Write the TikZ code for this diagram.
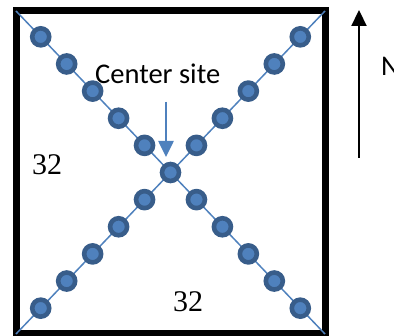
\documentclass[tikz,border=0pt]{standalone}
\usepackage{fontspec}
\setmainfont{Liberation Serif}
\newfontfamily\calfont{Carlito}
\usetikzlibrary{arrows.meta,calc}
\definecolor{siteblue}{HTML}{4F81BD}
\definecolor{sitedark}{HTML}{385D8A}
\tikzset{
  site/.style = {circle, draw = sitedark, fill = siteblue, line width = 4.6pt, minimum size = 17pt, inner sep = 0pt},
  chain/.style = {draw = siteblue, line width = 1.5pt},
  lbl/.style = {inner sep = 0pt, anchor = base west}
}
\begin{document}
\begin{tikzpicture}[x = 1pt, y = -1pt]
    \useasboundingbox (0,0) rectangle (394,336);
    % frame and corners
    \coordinate (tl) at (16,11);
    \coordinate (tr) at (325,11);
    \coordinate (bl) at (16,334);
    \coordinate (br) at (325,334);
    \draw[line width = 7pt] (tl) rectangle (br);
    % diagonals
    \coordinate (mid) at ($(tl)!0.5!(br)$);
    \draw[chain] (tl) -- (br);
    \draw[chain] (bl) -- (tr);
    % sites
    \foreach \c in {tl,tr,bl,br}
        \foreach \k in {1,...,5}
            \node[site] at ($(mid)!\k*0.168!(\c)$) {};
    \node[site] (ctr) at (mid) {};
    % labels
    \node[lbl, font = \calfont\fontsize{28.5}{30}\selectfont] (cs) at (95,84) {Center site};
    \coordinate (ptop) at (166,102);
    \coordinate (ptip) at (166,157);
    \draw[-{Triangle[length = 16pt, width = 15pt]}, draw = siteblue, fill = siteblue, line width = 2.6pt] (ptop) -- (ptip);
    \node[lbl, font = \fontsize{30}{32}\selectfont] (w) at (32,175) {32};
    \node[lbl, font = \fontsize{30}{32}\selectfont] (s) at (173,312) {32};
    % north arrow
    \coordinate (nbot) at (359,158);
    \coordinate (ntop) at (359,10);
    \draw[-{Triangle[length = 16pt, width = 15pt]}, line width = 2.2pt] (nbot) -- (ntop);
    \node[lbl, font = \calfont\fontsize{28.5}{30}\selectfont] (n) at (381,76) {N};
\end{tikzpicture}
\end{document}
